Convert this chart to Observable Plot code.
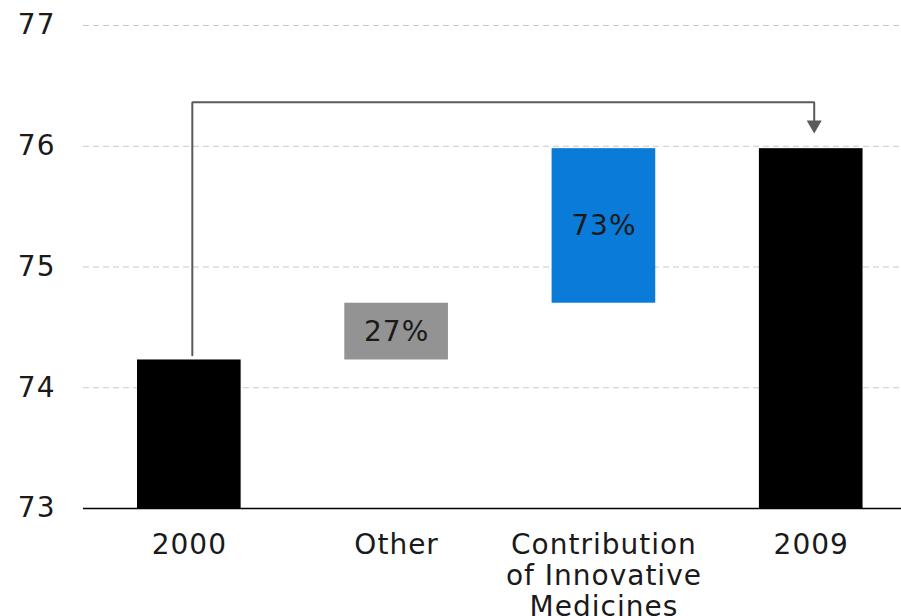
<!DOCTYPE html>
<html>
<head>
<meta charset="utf-8">
<script src="https://cdn.jsdelivr.net/npm/d3@7"></script>
<script src="https://cdn.jsdelivr.net/npm/@observablehq/plot@0.6"></script>
<style>
  html, body { margin: 0; padding: 0; background: #ffffff; }
</style>
</head>
<body>
<div id="chart"></div>
<script>
// ---- data ----
const categories = ["2000", "Other", "Contribution of Innovative Medicines", "2009"];
const xTickLabels = ["2000", "Other", "Contribution\nof Innovative\nMedicines", "2009"];
const barStart = [73, 74.23, 74.70, 73];
const barEnd = [74.23, 74.70, 75.98, 75.98];
const barColors = ["#000000", "#939393", "#0a7bd8", "#000000"];
const barLabels = ["", "27%", "73%", ""];
const yTicks = [73, 74, 75, 76, 77];
const connectorCats = ["2000", "2000", "2009", "2009"];
const connectorValues = [74.27, 76.365, 76.365, 76.2];
const arrowCat = ["2009"];
const arrowValue = [76.178];

// ---- tables built from the arrays ----
const bars = categories.map((c, i) => ({cat: c, y1: barStart[i], y2: barEnd[i], color: barColors[i], label: barLabels[i]}));
const connector = connectorCats.map((c, i) => ({cat: c, v: connectorValues[i]}));
const arrow = arrowCat.map((c, i) => ({cat: c, v: arrowValue[i]}));

const FONT = "'DejaVu Sans', Verdana, sans-serif";

const chart = Plot.plot({
  width: 901,
  height: 616,
  marginLeft: 83,
  marginRight: 0,
  marginTop: 25,
  marginBottom: 108,
  style: {fontFamily: FONT, fontSize: "28px", color: "#1a1a1a", background: "#ffffff", overflow: "visible", letterSpacing: "1px"},
  x: {domain: categories, paddingInner: 0.5, paddingOuter: 0.223, align: 0.584, round: false, axis: null},
  y: {domain: [73, 77], axis: null},
  color: {type: "identity"},
  marks: [
    Plot.ruleY(yTicks.filter(t => t > 73), {stroke: "#c8c8c8", strokeWidth: 1, strokeDasharray: "6,4"}),
    Plot.barY(bars, {x: "cat", y1: "y1", y2: "y2", fill: "color"}),
    Plot.ruleY([yTicks[0]], {stroke: "#000000", strokeWidth: 1.5}),
    Plot.text(bars.filter(d => d.label), {x: "cat", y: d => (d.y1 + d.y2) / 2, text: "label", fontSize: 28, fill: "#1a1a1a"}),
    Plot.line(connector, {x: "cat", y: "v", stroke: "#5a5a5a", strokeWidth: 2, strokeLinejoin: "miter", dx: 3}),
    Plot.dot(arrow, {x: "cat", y: "v", symbol: "triangle", rotate: 180, r: 5.6, fill: "#5a5a5a", stroke: "none", dx: 3}),
    Plot.axisY({ticks: yTicks, tickSize: 0, tickPadding: 28, fontSize: 28, label: null, tickFormat: d => String(d)}),
    Plot.axisX({tickSize: 0, tickPadding: 24, fontSize: 28, label: null, lineHeight: 1.1,
      tickFormat: d => xTickLabels[categories.indexOf(d)]})
  ]
});
document.getElementById("chart").appendChild(chart);
</script>
</body>
</html>
